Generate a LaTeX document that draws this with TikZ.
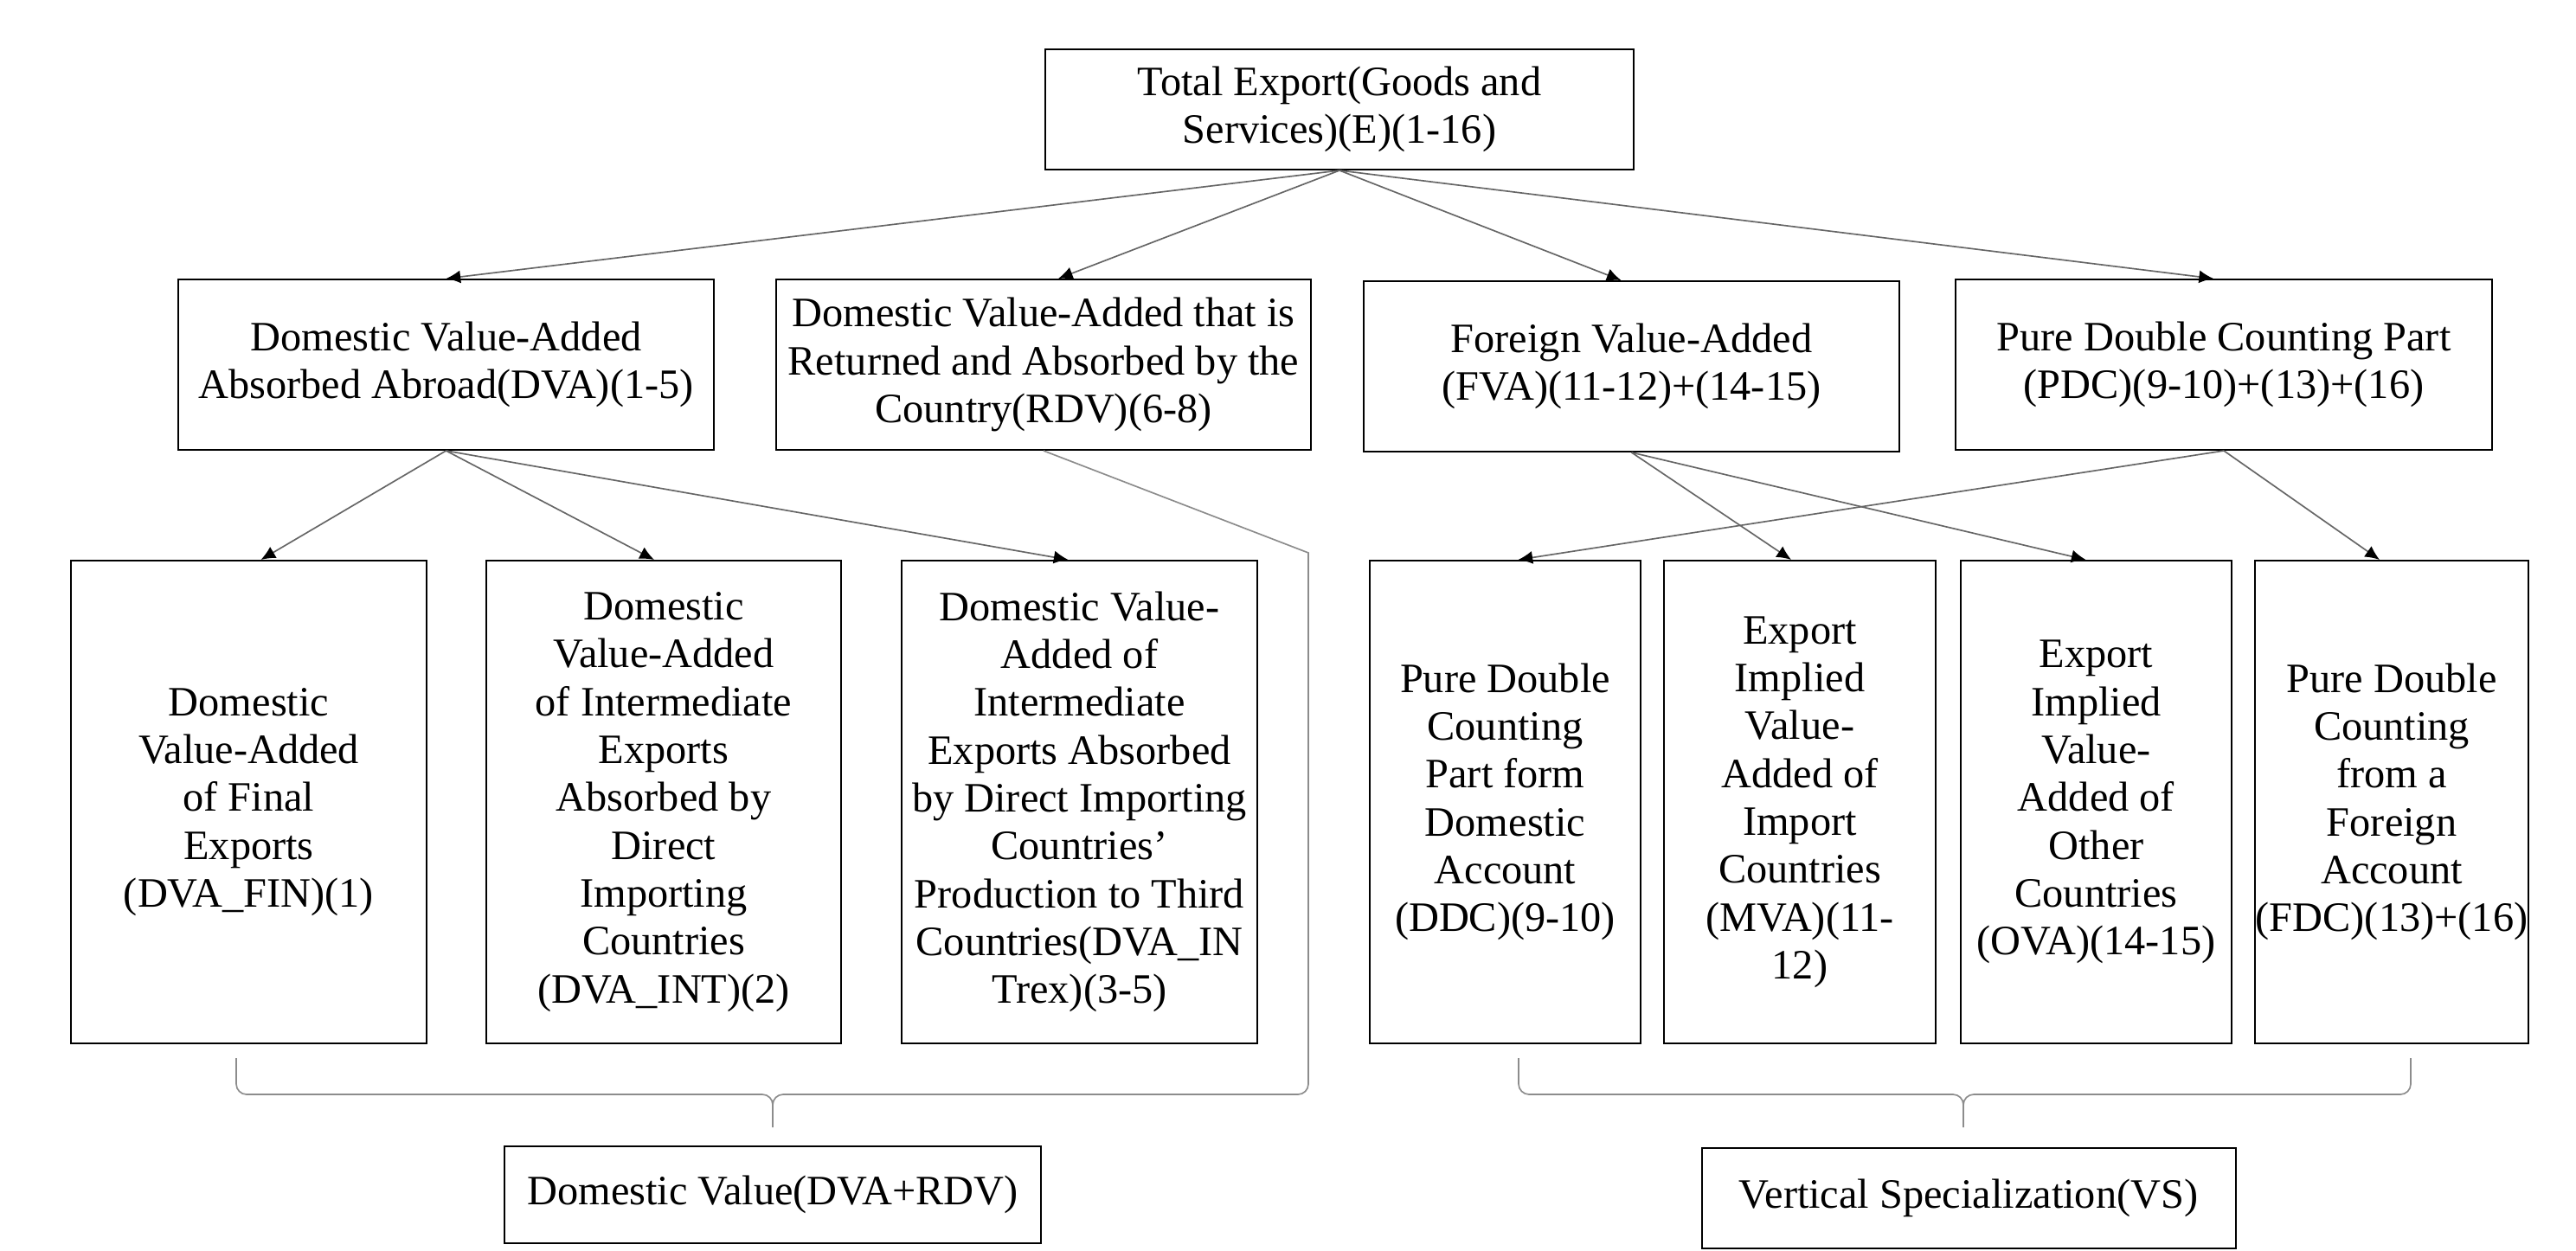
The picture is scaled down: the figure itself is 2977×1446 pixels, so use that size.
\documentclass[tikz,border=0pt]{standalone}
\usepackage{fontspec}
\setmainfont{Liberation Serif}
\usetikzlibrary{arrows.meta}
\begin{document}
\begin{tikzpicture}[x=0.3pt,y=-0.3pt,
  box/.style={draw=black,line width=0.6pt,align=center,inner sep=0pt,font=\fontsize{14.5}{16.6}\selectfont},
  arr/.style={draw=black!60,line width=0.5pt,-{Latex[length=5pt,width=4.5pt,black]}},
  br/.style={draw=black!45,line width=0.5pt}]
\useasboundingbox (0,0) rectangle (2977,1446);
\node[box,minimum width=680*0.3pt,minimum height=139*0.3pt] (top) at (1548,126.5) {Total Export(Goods and\\Services)(E)(1-16)};
\node[box,minimum width=619*0.3pt,minimum height=197*0.3pt] (dva) at (515.5,421.5) {Domestic Value-Added\\Absorbed Abroad(DVA)(1-5)};
\node[box,minimum width=618*0.3pt,minimum height=197*0.3pt] (rdv) at (1206,421.5) {Domestic Value-Added that is\\Returned and Absorbed by the\\Country(RDV)(6-8)};
\node[box,minimum width=619*0.3pt,minimum height=197*0.3pt] (fva) at (1885.5,423.5) {Foreign Value-Added\\(FVA)(11-12)+(14-15)};
\node[box,minimum width=620*0.3pt,minimum height=197*0.3pt] (pdc) at (2570,421.5) {Pure Double Counting Part\\(PDC)(9-10)+(13)+(16)};
\node[box,minimum width=411*0.3pt,minimum height=558*0.3pt] (b1) at (287.5,927) {Domestic\\Value-Added\\of Final\\Exports\\(DVA\_FIN)(1)};
\node[box,minimum width=410*0.3pt,minimum height=558*0.3pt] (b2) at (767,927) {Domestic\\Value-Added\\of Intermediate\\Exports\\Absorbed by\\Direct\\Importing\\Countries\\(DVA\_INT)(2)};
\node[box,minimum width=411*0.3pt,minimum height=558*0.3pt] (b3) at (1247.5,927) {Domestic Value-\\Added of\\Intermediate\\Exports Absorbed\\by Direct Importing\\Countries’\\Production to Third\\Countries(DVA\_IN\\Trex)(3-5)};
\node[box,minimum width=313*0.3pt,minimum height=558*0.3pt] (b4) at (1739.5,927) {Pure Double\\Counting\\Part form\\Domestic\\Account\\(DDC)(9-10)};
\node[box,minimum width=314*0.3pt,minimum height=558*0.3pt] (b5) at (2080,927) {Export\\Implied\\Value-\\Added of\\Import\\Countries\\(MVA)(11-\\12)};
\node[box,minimum width=313*0.3pt,minimum height=558*0.3pt] (b6) at (2422.5,927) {Export\\Implied\\Value-\\Added of\\Other\\Countries\\(OVA)(14-15)};
\node[box,minimum width=316*0.3pt,minimum height=558*0.3pt] (b7) at (2764,927) {Pure Double\\Counting\\from a\\Foreign\\Account\\(FDC)(13)+(16)};
\node[box,minimum width=620*0.3pt,minimum height=112*0.3pt] (dv) at (893,1381) {Domestic Value(DVA+RDV)};
\node[box,minimum width=617*0.3pt,minimum height=116*0.3pt] (vs) at (2275,1385) {Vertical Specialization(VS)};
\draw[arr] (top.south) -- (dva.north);
\draw[arr] (top.south) -- ([xshift=17*0.3pt]rdv.north);
\draw[arr] (top.south) -- ([xshift=-12*0.3pt]fva.north);
\draw[arr] (top.south) -- ([xshift=-12*0.3pt]pdc.north);
\draw[arr] (dva.south) -- ([xshift=14*0.3pt]b1.north);
\draw[arr] (dva.south) -- ([xshift=-11*0.3pt]b2.north);
\draw[arr] (dva.south) -- ([xshift=-13*0.3pt]b3.north);
\draw[arr] (fva.south) -- ([xshift=-10*0.3pt]b5.north);
\draw[arr] (fva.south) -- ([xshift=-12*0.3pt]b6.north);
\draw[arr] (pdc.south) -- ([xshift=15*0.3pt]b4.north);
\draw[arr] (pdc.south) -- ([xshift=-14*0.3pt]b7.north);
% left brace
\coordinate (lt) at (893,1303);
\draw[br] (273,1223) -- (273,1253) to[out=-90,in=180] (285,1265) -- (881,1265) to[out=0,in=90] (893,1277) -- (lt);
\draw[br] (rdv.south) -- (1512,639) -- (1512,1253) to[out=-90,in=0] (1500,1265) -- (905,1265) to[out=180,in=90] (893,1277);
% right brace
\coordinate (rt) at (2269,1303);
\draw[br] (1755,1223) -- (1755,1253) to[out=-90,in=180] (1767,1265) -- (2257,1265) to[out=0,in=90] (2269,1277) -- (rt);
\draw[br] (2786,1223) -- (2786,1253) to[out=-90,in=0] (2774,1265) -- (2281,1265) to[out=180,in=90] (2269,1277);
\end{tikzpicture}
\end{document}
